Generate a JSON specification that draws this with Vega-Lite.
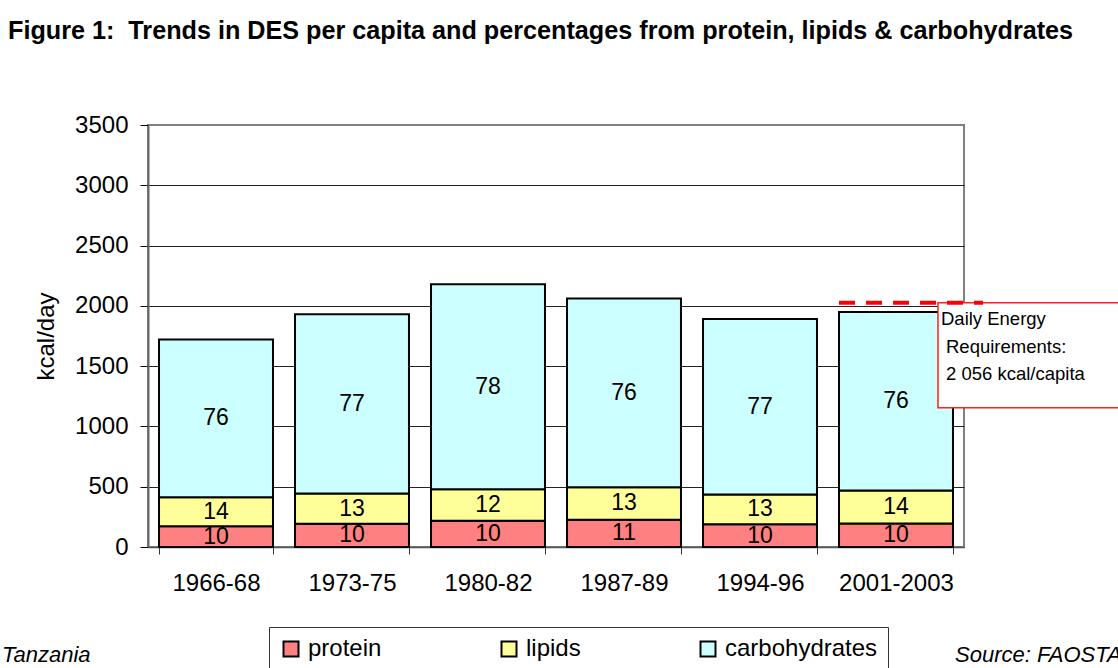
{
  "$schema": "https://vega.github.io/schema/vega-lite/v6.json",
  "width": 816,
  "height": 422,
  "autosize": {"type": "none"},
  "padding": {"left": 148, "top": 125, "right": 154, "bottom": 121},
  "background": "white",
  "config": {
    "font": "Liberation Sans",
    "view": {"stroke": "#808080", "strokeWidth": 2},
    "text": {"font": "Liberation Sans", "color": "black"}
  },
  "title": {
    "text": "Figure 1:\u00a0 Trends in DES per capita and percentages from protein, lipids & carbohydrates",
    "anchor": "start",
    "frame": "group",
    "dx": -140,
    "offset": 69,
    "fontSize": 25.2,
    "fontWeight": "bold",
    "font": "Liberation Sans",
    "color": "black"
  },
  "datasets": {
    "des": [
      {"period": "1966-68", "nutrient": "protein", "kcal": 172, "pct": 10},
      {"period": "1966-68", "nutrient": "lipids", "kcal": 241, "pct": 14},
      {"period": "1966-68", "nutrient": "carbohydrates", "kcal": 1308, "pct": 76},
      {"period": "1973-75", "nutrient": "protein", "kcal": 193, "pct": 10},
      {"period": "1973-75", "nutrient": "lipids", "kcal": 251, "pct": 13},
      {"period": "1973-75", "nutrient": "carbohydrates", "kcal": 1487, "pct": 77},
      {"period": "1980-82", "nutrient": "protein", "kcal": 218, "pct": 10},
      {"period": "1980-82", "nutrient": "lipids", "kcal": 262, "pct": 12},
      {"period": "1980-82", "nutrient": "carbohydrates", "kcal": 1700, "pct": 78},
      {"period": "1987-89", "nutrient": "protein", "kcal": 227, "pct": 11},
      {"period": "1987-89", "nutrient": "lipids", "kcal": 268, "pct": 13},
      {"period": "1987-89", "nutrient": "carbohydrates", "kcal": 1566, "pct": 76},
      {"period": "1994-96", "nutrient": "protein", "kcal": 189, "pct": 10},
      {"period": "1994-96", "nutrient": "lipids", "kcal": 246, "pct": 13},
      {"period": "1994-96", "nutrient": "carbohydrates", "kcal": 1455, "pct": 77},
      {"period": "2001-2003", "nutrient": "protein", "kcal": 195, "pct": 10},
      {"period": "2001-2003", "nutrient": "lipids", "kcal": 273, "pct": 14},
      {"period": "2001-2003", "nutrient": "carbohydrates", "kcal": 1482, "pct": 76}
    ],
    "req": [{"period": "2001-2003", "kcal": 2025, "boxBottom": 1154, "textY": 1840, "textY2": 1612}]
  },
  "layer": [
    {
      "data": {"name": "des"},
      "mark": {"type": "bar", "stroke": "black", "strokeWidth": 2},
      "encoding": {
        "x": {
          "field": "period",
          "type": "nominal",
          "sort": null,
          "scale": {"paddingInner": 0.162, "paddingOuter": 0.081},
          "axis": {
            "title": null,
            "labelFontSize": 24,
            "labelColor": "black",
            "labelAngle": 0,
            "tickColor": "#333",
            "tickSize": 7,
            "labelPadding": 17,
            "domainColor": "#555",
            "domainWidth": 1.5,
            "tickBand": "extent",
            "grid": false
          }
        },
        "y": {
          "field": "kcal",
          "type": "quantitative",
          "stack": "zero",
          "scale": {"domain": [0, 3500], "nice": false},
          "axis": {
            "title": "kcal/day",
            "format": "d",
            "titleFontSize": 24,
            "titleFontWeight": "normal",
            "titleColor": "black",
            "titlePadding": 16,
            "labelFontSize": 24,
            "labelColor": "black",
            "labelPadding": 12,
            "tickSize": 8,
            "tickColor": "black",
            "values": [0, 500, 1000, 1500, 2000, 2500, 3000, 3500],
            "grid": true,
            "gridColor": {"condition": {"test": "datum.value === 3500", "value": "#808080"}, "value": "#222222"},
            "gridWidth": 1,
            "domainColor": "#666",
            "domainWidth": 2
          }
        },
        "color": {
          "field": "nutrient",
          "type": "nominal",
          "scale": {
            "domain": ["protein", "lipids", "carbohydrates"],
            "range": ["#FF8080", "#FFFF99", "#CCFFFF"]
          },
          "legend": {
            "orient": "none",
            "legendX": 121,
            "legendY": 502,
            "direction": "horizontal",
            "title": null,
            "labelFontSize": 24,
            "labelColor": "black",
            "labelFont": "Liberation Sans",
            "symbolType": "square",
            "symbolSize": 225,
            "symbolStrokeColor": "black",
            "symbolStrokeWidth": 2,
            "symbolOpacity": 1,
            "labelOffset": 5,
            "columnPadding": 115,
            "padding": 10,
            "strokeColor": "#333",
            "fillColor": "white"
          }
        },
        "order": {"field": "nutrient", "sort": "descending"}
      }
    },
    {
      "data": {"name": "des"},
      "mark": {"type": "text", "fontSize": 23, "baseline": "middle", "align": "center", "color": "black"},
      "encoding": {
        "x": {"field": "period", "type": "nominal", "sort": null},
        "y": {"field": "kcal", "type": "quantitative", "stack": "zero", "bandPosition": 0.5},
        "detail": {"field": "nutrient"},
        "order": {"field": "nutrient", "sort": "descending"},
        "text": {"field": "pct", "type": "quantitative"}
      }
    },
    {
      "data": {"name": "req"},
      "mark": {"type": "rect", "fill": "white", "stroke": "#ff2020", "strokeWidth": 1.5, "xOffset": -15, "x2Offset": 300},
      "encoding": {
        "x": {"field": "period", "type": "nominal", "bandPosition": 1},
        "x2": {"field": "period", "bandPosition": 1},
        "y": {"field": "kcal", "type": "quantitative"},
        "y2": {"field": "boxBottom"}
      }
    },
    {
      "data": {"name": "req"},
      "mark": {"type": "rule", "color": "#ff0000", "strokeWidth": 4, "strokeDash": [16, 11], "x2Offset": 30},
      "encoding": {
        "x": {"field": "period", "type": "nominal", "bandPosition": 0},
        "x2": {"field": "period", "bandPosition": 1},
        "y": {"field": "kcal", "type": "quantitative"}
      }
    },
    {
      "data": {"name": "req"},
      "mark": {"type": "text", "fontSize": 18.5, "align": "left", "baseline": "alphabetic", "xOffset": -12, "color": "black"},
      "encoding": {
        "x": {"field": "period", "type": "nominal", "bandPosition": 1},
        "y": {"field": "textY", "type": "quantitative"},
        "text": {"value": "Daily Energy"}
      }
    },
    {
      "data": {"name": "req"},
      "mark": {"type": "text", "fontSize": 18.5, "align": "left", "baseline": "alphabetic", "lineHeight": 27.5, "xOffset": -7, "color": "black"},
      "encoding": {
        "x": {"field": "period", "type": "nominal", "bandPosition": 1},
        "y": {"field": "textY2", "type": "quantitative"},
        "text": {"value": ["Requirements:", "2 056 kcal/capita"]}
      }
    },
    {
      "data": {"values": [{"period": "1966-68", "y": -954, "note": "Tanzania"}]},
      "mark": {"type": "text", "fontSize": 22, "fontStyle": "italic", "font": "Liberation Sans", "align": "left", "baseline": "alphabetic", "xOffset": -157, "color": "black"},
      "encoding": {
        "x": {"field": "period", "type": "nominal", "bandPosition": 0},
        "y": {"field": "y", "type": "quantitative"},
        "text": {"field": "note"}
      }
    },
    {
      "data": {"values": [{"period": "2001-2003", "y": -954, "note": "Source: FAOSTAT"}]},
      "mark": {"type": "text", "fontSize": 22, "fontStyle": "italic", "font": "Liberation Sans", "align": "left", "baseline": "alphabetic", "xOffset": 2, "color": "black"},
      "encoding": {
        "x": {"field": "period", "type": "nominal", "bandPosition": 1},
        "y": {"field": "y", "type": "quantitative"},
        "text": {"field": "note"}
      }
    }
  ]
}
